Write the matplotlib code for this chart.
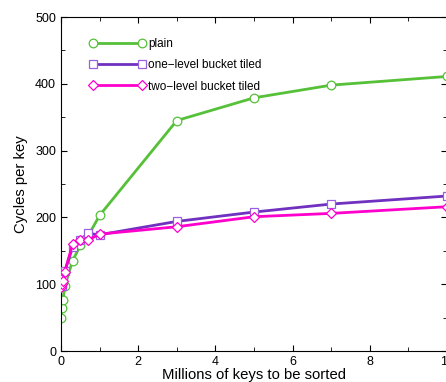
import matplotlib
matplotlib.use("Agg")
import matplotlib.pyplot as plt
from matplotlib.ticker import MultipleLocator

plt.rcParams['font.family'] = ['Liberation Sans', 'DejaVu Sans']

# millions of keys
keys = [0.01, 0.02, 0.05, 0.1, 0.3, 0.5, 0.7, 1, 3, 5, 7, 10]
plain = [50, 65, 76, 98, 135, 158, 172, 203, 345, 379, 398, 411]
one_level = [100, 97, 108, 120, 155, 166, 176, 174, 194, 208, 220, 232]
two_level = [96, 100, 105, 119, 160, 166, 166, 175, 186, 201, 206, 216]

fig = plt.figure(figsize=(4.46, 3.82), dpi=100)
ax = fig.add_axes([61 / 446, 31 / 382, 386 / 446, 334 / 382])

ax.plot(keys, plain, color="#55c038", lw=2.0, marker="o", ms=6.2, mfc="white",
        mec="#55c038", mew=0.9, label="plain", zorder=2)
ax.plot(keys, one_level, color="#7030c0", lw=2.0, marker="s", ms=5.6, mfc="white",
        mec="#9a60e0", mew=0.9, label="one\u2212level bucket tiled", zorder=3)
ax.plot(keys, two_level, color="#ff00cc", lw=2.0, marker="D", ms=5, mfc="white",
        mec="#ff00cc", mew=0.9, label="two\u2212level bucket tiled", zorder=4)

ax.set_xlim(0, 10)
ax.set_ylim(0, 500)
ax.xaxis.set_major_locator(MultipleLocator(2))
ax.xaxis.set_minor_locator(MultipleLocator(1))
ax.yaxis.set_major_locator(MultipleLocator(100))
ax.yaxis.set_minor_locator(MultipleLocator(50))
ax.tick_params(which="both", direction="in", top=True, right=True, labelsize=9)
ax.tick_params(which="major", length=4)
ax.tick_params(which="minor", length=3)

ax.set_xlabel("Millions of keys to be sorted", fontsize=10.7, labelpad=0)
ax.set_ylabel("Cycles per key", fontsize=10.7, labelpad=5)

ax.legend(loc="upper left", bbox_to_anchor=(0.045, 0.970), frameon=False,
          numpoints=2, handlelength=4.75, fontsize=8.5, labelspacing=0.8,
          handletextpad=0.25)

fig.savefig("out.png", dpi=100)
